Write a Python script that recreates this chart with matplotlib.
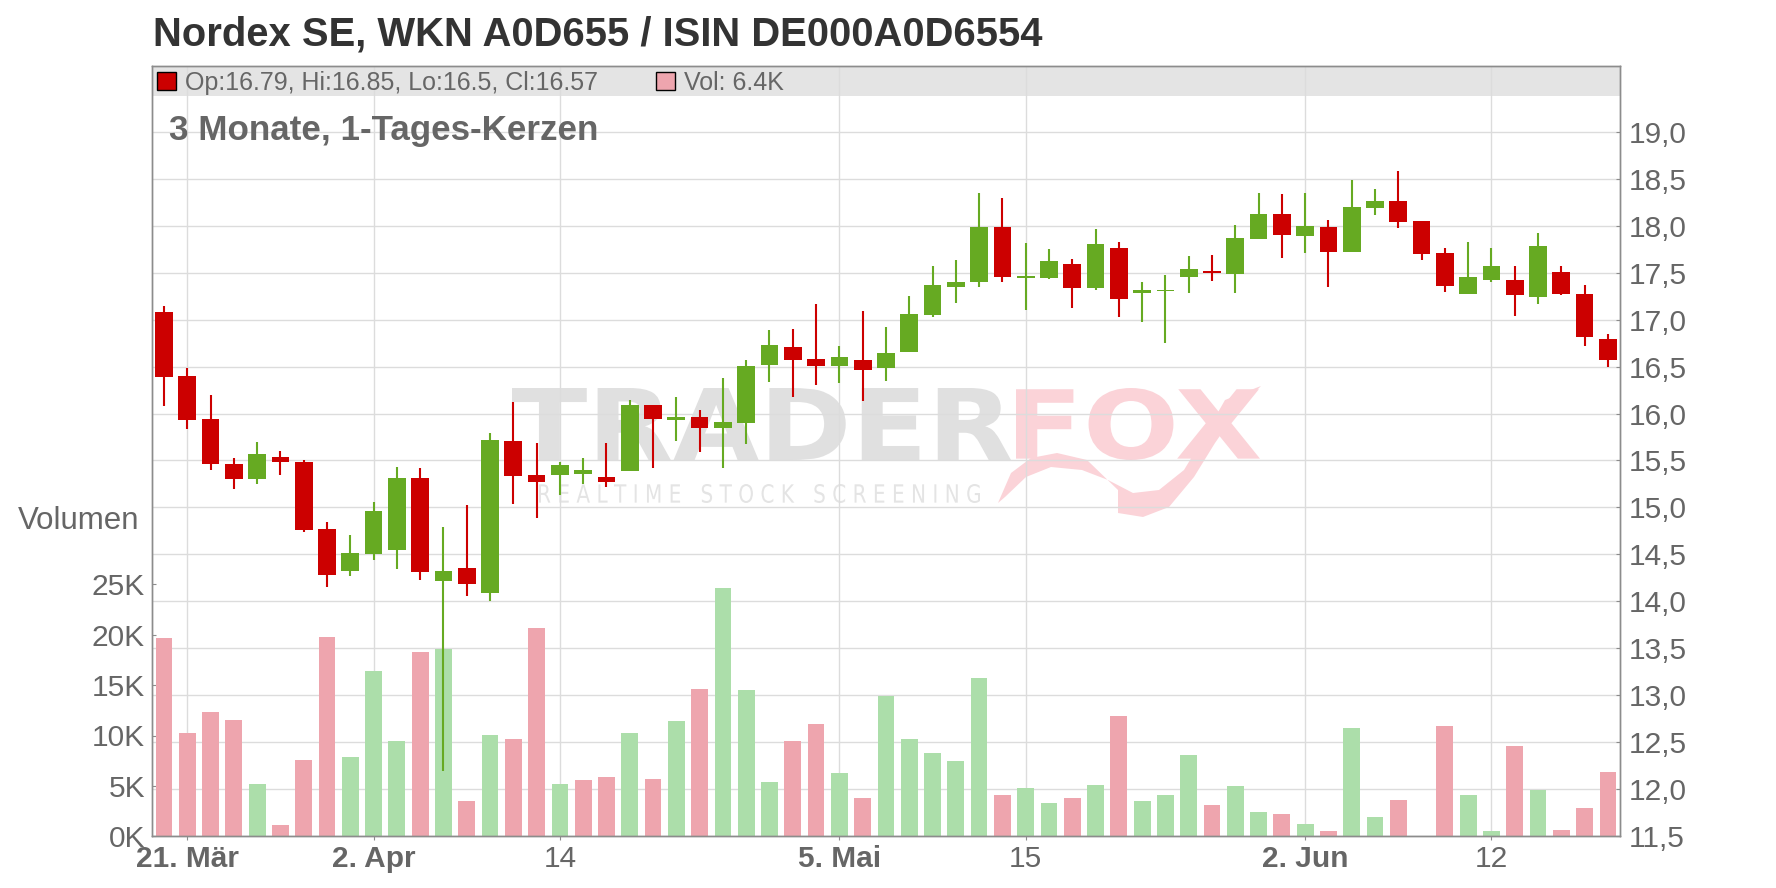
import matplotlib
matplotlib.use("Agg")
import matplotlib.pyplot as plt
import numpy as np
from matplotlib.patches import Rectangle, PathPatch
from matplotlib.path import Path
from matplotlib.textpath import TextPath
from matplotlib.font_manager import FontProperties
from matplotlib.transforms import Affine2D, blended_transform_factory
from matplotlib.ticker import FuncFormatter

plt.rcParams['font.family'] = ['Liberation Sans', 'DejaVu Sans']

# trading days (2025), daily candles
dates = ["2025-03-20", "2025-03-21", "2025-03-24", "2025-03-25", "2025-03-26", "2025-03-27",
         "2025-03-28", "2025-03-31", "2025-04-01", "2025-04-02", "2025-04-03", "2025-04-04",
         "2025-04-07", "2025-04-08", "2025-04-09", "2025-04-10", "2025-04-11", "2025-04-14",
         "2025-04-15", "2025-04-16", "2025-04-17", "2025-04-22", "2025-04-23", "2025-04-24",
         "2025-04-25", "2025-04-28", "2025-04-29", "2025-04-30", "2025-05-02", "2025-05-05",
         "2025-05-06", "2025-05-07", "2025-05-08", "2025-05-09", "2025-05-12", "2025-05-13",
         "2025-05-14", "2025-05-15", "2025-05-16", "2025-05-19", "2025-05-20", "2025-05-21",
         "2025-05-22", "2025-05-23", "2025-05-26", "2025-05-27", "2025-05-28", "2025-05-29",
         "2025-05-30", "2025-06-02", "2025-06-03", "2025-06-04", "2025-06-05", "2025-06-06",
         "2025-06-09", "2025-06-10", "2025-06-11", "2025-06-12", "2025-06-13", "2025-06-16",
         "2025-06-17", "2025-06-18", "2025-06-19"]

opens = [17.08, 16.40, 15.94, 15.46, 15.30, 15.54, 15.48, 14.77, 14.32, 14.50,
         14.55, 15.31, 14.22, 14.36, 14.09, 15.71, 15.35, 15.35, 15.36, 15.32,
         15.39, 16.09, 15.93, 15.96, 15.85, 15.90, 16.52, 16.71, 16.58, 16.51,
         16.57, 16.48, 16.65, 17.05, 17.35, 17.40, 17.99, 17.44, 17.44, 17.59,
         17.34, 17.76, 17.28, 17.30, 17.45, 17.52, 17.49, 17.86, 18.12, 17.89,
         17.99, 17.72, 18.19, 18.26, 18.05, 17.71, 17.27, 17.42, 17.42, 17.24,
         17.51, 17.27, 16.79]
highs = [17.14, 16.48, 16.20, 15.53, 15.70, 15.60, 15.51, 14.85, 14.71, 15.06,
         15.43, 15.42, 14.79, 15.03, 15.79, 16.12, 15.69, 15.48, 15.53, 15.69,
         16.14, 16.09, 16.18, 16.04, 16.38, 16.57, 16.89, 16.90, 17.17, 16.72,
         17.09, 16.92, 17.25, 17.57, 17.63, 18.35, 18.29, 17.81, 17.75, 17.64,
         17.96, 17.83, 17.40, 17.47, 17.68, 17.69, 18.01, 18.35, 18.34, 18.35,
         18.06, 18.49, 18.39, 18.58, 18.05, 17.76, 17.83, 17.76, 17.57, 17.92,
         17.57, 17.37, 16.85]
lows = [16.08, 15.84, 15.40, 15.20, 15.25, 15.35, 14.74, 14.15, 14.27, 14.44,
        14.34, 14.23, 12.20, 14.06, 14.00, 15.04, 14.89, 15.13, 15.25, 15.22,
        15.39, 15.42, 15.71, 15.59, 15.42, 15.68, 16.34, 16.18, 16.30, 16.32,
        16.13, 16.35, 16.65, 17.03, 17.18, 17.35, 17.40, 17.10, 17.43, 17.12,
        17.31, 17.03, 16.97, 16.75, 17.28, 17.41, 17.28, 17.86, 17.66, 17.71,
        17.35, 17.72, 18.11, 17.97, 17.63, 17.29, 17.27, 17.40, 17.04, 17.17,
        17.26, 16.72, 16.50]
closes = [16.39, 15.93, 15.46, 15.30, 15.57, 15.48, 14.76, 14.28, 14.52, 14.96,
          15.31, 14.31, 14.32, 14.19, 15.72, 15.33, 15.27, 15.45, 15.40, 15.27,
          16.09, 15.94, 15.96, 15.85, 15.91, 16.51, 16.73, 16.57, 16.51, 16.60,
          16.46, 16.64, 17.06, 17.37, 17.40, 17.99, 17.45, 17.46, 17.62, 17.34,
          17.80, 17.22, 17.31, 17.32, 17.54, 17.50, 17.87, 18.12, 17.90, 18.00,
          17.72, 18.20, 18.26, 18.04, 17.70, 17.36, 17.45, 17.57, 17.26, 17.78,
          17.27, 16.81, 16.57]
# volume in thousand shares
volumes = [19.7, 10.25, 12.33, 11.54, 5.19, 1.12, 7.57, 19.77, 7.87, 16.4,
           9.45, 18.28, 18.58, 3.5, 10.05, 9.65, 20.66, 5.19, 5.59, 5.88,
           10.25, 5.68, 11.44, 14.61, 24.63, 14.51, 5.39, 9.45, 11.14, 6.28,
           3.8, 13.92, 9.65, 8.26, 7.47, 15.7, 4.1, 4.79, 3.3, 3.8,
           5.09, 11.93, 3.5, 4.1, 8.07, 3.11, 4.99, 2.41, 2.21, 1.22,
           0.53, 10.74, 1.91, 3.6, 0.0, 10.94, 4.1, 0.53, 8.96, 4.59,
           0.63, 2.81, 6.4]

tick_dates = ["2025-03-21", "2025-04-02", "2025-04-14", "2025-05-05", "2025-05-15", "2025-06-02", "2025-06-12"]
tick_labels = ["21. Mär", "2. Apr", "14", "5. Mai", "15", "2. Jun", "12"]
price_ticks = np.arange(11.5, 19.01, 0.5)
vol_ticks = [0, 5, 10, 15, 20, 25]

W, H = 1776, 888
RED, GREEN = '#cc0000', '#66aa22'
PINK, LGREEN = '#eea5ae', '#acdeaa'
GREY_TXT = '#666666'

o = np.array(opens); h = np.array(highs); l = np.array(lows); c = np.array(closes)
x = np.arange(len(dates))
up = c >= o
cand_col = np.where(up, GREEN, RED)
prev = np.concatenate([[o[0]], c[:-1]])
vol_col = np.where(c >= prev, LGREEN, PINK)

fig = plt.figure(figsize=(W / 100, H / 100), dpi=100)
left, right, top, bottom = 152, 1620, 65.7, 836.3
ax = fig.add_axes([left / W, 1 - bottom / H, (right - left) / W, (bottom - top) / H])
axp = ax.twinx()

ax.set_xlim(-0.515, 62.52)
ax.set_ylim(0, (bottom - top) / 10.08)
axp.set_ylim(11.5, 11.5 + (bottom - top) / 93.95)

# legend band at top of plot
ax.add_patch(Rectangle((0, 0.9607), 1, 0.0393, transform=ax.transAxes,
                       facecolor='#e4e4e4', edgecolor='none', zorder=0.2))

# watermark
def word(text, x0, x1, ytop, ybot, color, weight='bold'):
    tp = TextPath((0, 0), text, size=1, prop=FontProperties(family='DejaVu Sans', weight=weight))
    e = tp.get_extents()
    tr = (Affine2D().translate(-e.x0, -e.y0).scale((x1 - x0) / e.width, (ybot - ytop) / e.height)
          .translate(x0, H - ybot).scale(1 / W, 1 / H) + fig.transFigure)
    ax.add_patch(PathPatch(tp, transform=tr, facecolor=color, edgecolor='none', zorder=0.3))

word("TRADER", 512, 1011, 388, 460, '#e0e0e0')
word("FOX", 1016, 1260, 388, 460, '#fbd3d8')
word("R E A L T I M E   S T O C K   S C R E E N I N G", 539, 980, 484, 503, '#e4e4e4', 'normal')
tail = [(998, 503), (1011, 473), (1031, 458), (1057, 453), (1087, 460), (1118, 490),
        (1118, 513), (1143, 517), (1169, 507), (1194, 477), (1215, 443), (1240, 407),
        (1261, 386), (1225, 400), (1204, 437), (1184, 470), (1159, 490), (1133, 493),
        (1108, 480), (1082, 470), (1051, 467), (1026, 477), (1005, 497), (998, 503)]
tail_path = Path([(px, H - py) for px, py in tail])
ax.add_patch(PathPatch(tail_path, transform=Affine2D().scale(1 / W, 1 / H) + fig.transFigure,
                       facecolor='#fbd3d8', edgecolor='none', zorder=0.3))

# grid
tick_pos = [dates.index(d) for d in tick_dates]
for tp_ in tick_pos:
    ax.axvline(tp_, color='#dcdcdc', lw=1.0, zorder=0.5)
btr = blended_transform_factory(ax.transAxes, axp.transData)
for p in price_ticks:
    ax.plot([0, 1], [p, p], transform=btr, color='#dcdcdc', lw=1.0, zorder=0.5)

# volume bars
ax.bar(x, volumes, width=0.72, color=vol_col, zorder=2)

# candles
axp.vlines(x, l, h, colors=cand_col, lw=1.5, zorder=3)
body = np.maximum(np.abs(c - o), 0.012)
axp.bar(x, body, bottom=np.minimum(o, c), width=0.76, color=cand_col, zorder=4)

# axes styling
for a in (ax, axp):
    for s in a.spines.values():
        s.set_color('#8c8c8c')
        s.set_linewidth(1.0)
ax.set_xticks(tick_pos)
ax.set_xticklabels(tick_labels)
for t, lab in zip(ax.get_xticklabels(), tick_labels):
    t.set_fontweight('bold' if '.' in lab else 'normal')
ax.tick_params(axis='x', direction='out', length=3, color='#8c8c8c', labelsize=21.5,
               labelcolor=GREY_TXT, pad=3)
ax.set_yticks(vol_ticks)
ax.yaxis.set_major_formatter(FuncFormatter(lambda v, pos: f"{int(v)}K"))
ax.tick_params(axis='y', direction='in', length=3, color='#8c8c8c', labelsize=21.5,
               labelcolor=GREY_TXT, pad=5)
axp.set_yticks(price_ticks)
axp.yaxis.set_major_formatter(FuncFormatter(lambda v, pos: f"{v:.1f}".replace('.', ',')))
axp.tick_params(axis='y', direction='in', length=3, color='#8c8c8c', labelsize=21.5,
                labelcolor=GREY_TXT, pad=6)

# texts
fig.text(153 / W, 1 - 46 / H, "Nordex SE, WKN A0D655 / ISIN DE000A0D6554", fontsize=28.8,
         fontweight='bold', color='#333333', va='baseline')
fig.text(169 / W, 1 - 140 / H, "3 Monate, 1-Tages-Kerzen", fontsize=25.2,
         fontweight='bold', color=GREY_TXT, va='baseline')
fig.text(139 / W, 1 - 521 / H, "Volumen", fontsize=22.5, color=GREY_TXT, ha='right', va='center')

fig.add_artist(Rectangle((157 / W, 1 - 90 / H), 19 / W, 18 / H, transform=fig.transFigure,
                         facecolor=cand_col[-1], edgecolor='black', lw=1))
fig.text(185 / W, 1 - 90 / H, f"Op:{opens[-1]}, Hi:{highs[-1]}, Lo:{lows[-1]}, Cl:{closes[-1]}",
         fontsize=18.0, color=GREY_TXT, va='baseline')
fig.add_artist(Rectangle((656 / W, 1 - 90 / H), 19 / W, 18 / H, transform=fig.transFigure,
                         facecolor=vol_col[-1], edgecolor='black', lw=1))
fig.text(684 / W, 1 - 90 / H, f"Vol: {volumes[-1]:.1f}K", fontsize=18.0, color=GREY_TXT, va='baseline')

fig.savefig("out.png", dpi=100)
